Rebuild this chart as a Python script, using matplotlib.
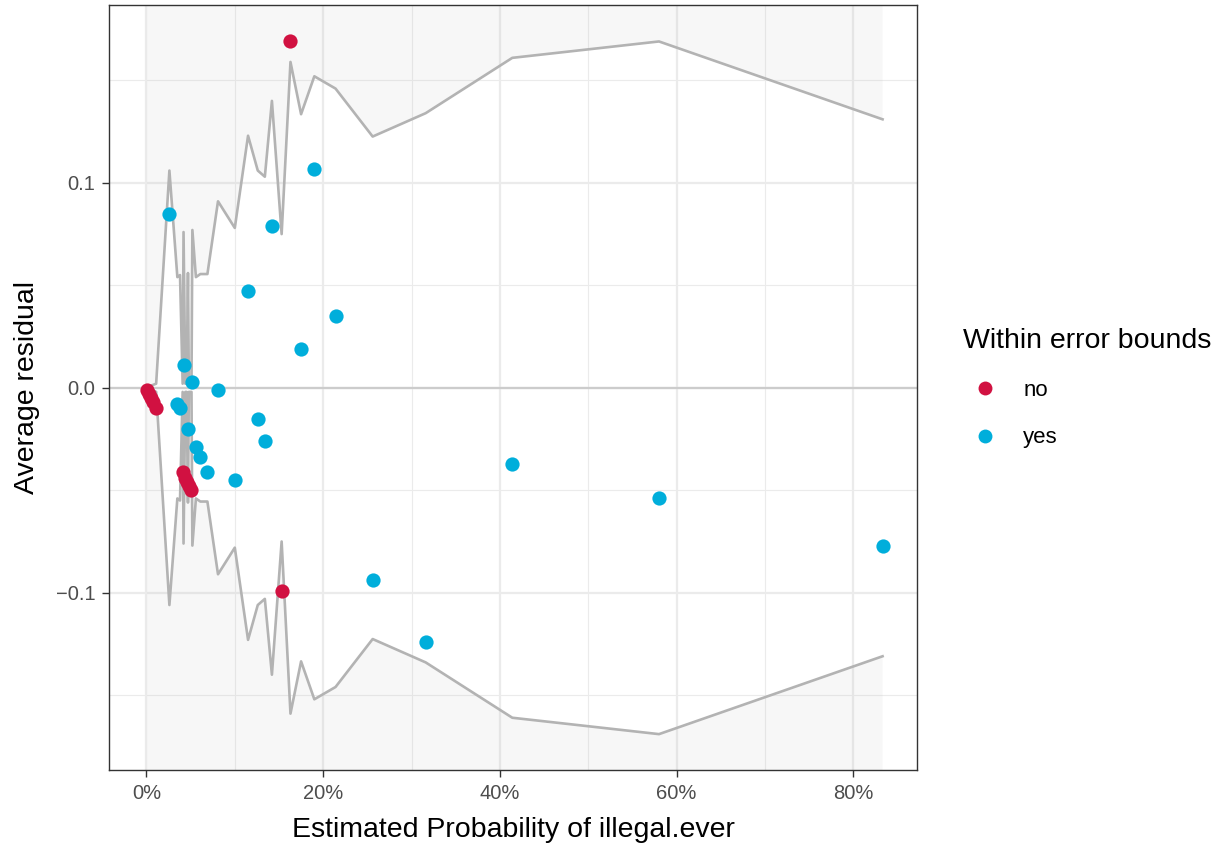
import numpy as np
import matplotlib.pyplot as plt
from matplotlib.lines import Line2D
from matplotlib.ticker import FuncFormatter

plt.rcParams['font.family'] = ['Liberation Sans', 'DejaVu Sans']

# binned residuals, one entry per bin (sorted by estimated probability)
xbar = [0.0005, 0.003, 0.005, 0.008, 0.011, 0.026, 0.035, 0.038, 0.041, 0.042,
        0.044, 0.0455, 0.047, 0.048, 0.051, 0.052, 0.056, 0.061, 0.069, 0.081,
        0.100, 0.115, 0.126, 0.134, 0.142, 0.153, 0.163, 0.175, 0.190, 0.214,
        0.256, 0.316, 0.414, 0.580, 0.833]
ybar = [-0.001, -0.003, -0.005, -0.007, -0.010, 0.085, -0.008, -0.010, -0.041, 0.011,
        -0.044, -0.046, -0.020, -0.048, -0.050, 0.003, -0.029, -0.034, -0.041, -0.001,
        -0.045, 0.047, -0.015, -0.026, 0.079, -0.099, 0.169, 0.019, 0.107, 0.035,
        -0.094, -0.124, -0.037, -0.054, -0.077]
se = [0.0003, 0.0006, 0.001, 0.0015, 0.002, 0.106, 0.054, 0.055, 0.002, 0.076,
      0.002, 0.002, 0.056, 0.002, 0.002, 0.077, 0.054, 0.0555, 0.0555, 0.091,
      0.078, 0.123, 0.106, 0.103, 0.140, 0.075, 0.159, 0.1335, 0.152, 0.146,
      0.1226, 0.134, 0.161, 0.169, 0.131]
group = ['no', 'no', 'no', 'no', 'no', 'yes', 'yes', 'yes', 'no', 'yes',
         'no', 'no', 'yes', 'no', 'no', 'yes', 'yes', 'yes', 'yes', 'yes',
         'yes', 'yes', 'yes', 'yes', 'yes', 'no', 'no', 'yes', 'yes', 'yes',
         'yes', 'yes', 'yes', 'yes', 'yes']

colors = {'no': '#d11141', 'yes': '#00aedb'}

x = np.array(xbar)
y = np.array(ybar)
s = np.array(se)
g = np.array(group)

fig = plt.figure(figsize=(12.26, 8.43), dpi=100)
ax = fig.add_axes([0.0893, 0.0866, 0.6587, 0.9075])

ylo, yhi = -0.1865, 0.1868
ax.set_xlim(-0.0418, 0.872)
ax.set_ylim(ylo, yhi)

# grid (theme_bw)
for v in [0.1, 0.3, 0.5, 0.7]:
    ax.axvline(v, color='#ebebeb', lw=0.8, zorder=0)
for v in [0.0, 0.2, 0.4, 0.6, 0.8]:
    ax.axvline(v, color='#ebebeb', lw=1.6, zorder=0)
for v in [-0.15, -0.05, 0.05, 0.15]:
    ax.axhline(v, color='#ebebeb', lw=0.8, zorder=0)
for v in [-0.1, 0.0, 0.1]:
    ax.axhline(v, color='#ebebeb', lw=1.6, zorder=0)

ax.axhline(0, color='#cccccc', lw=1.6, zorder=1)

# shade outside the error bounds
ax.fill_between(x, s, yhi + 1, color='#b3b3b3', alpha=0.1, lw=0, zorder=1)
ax.fill_between(x, ylo - 1, -s, color='#b3b3b3', alpha=0.1, lw=0, zorder=1)

ax.plot(x, s, color='#b3b3b3', lw=1.9, zorder=2)
ax.plot(x, -s, color='#b3b3b3', lw=1.9, zorder=2)

for key in ['no', 'yes']:
    m = g == key
    ax.scatter(x[m], y[m], s=105, color=colors[key], lw=0, zorder=3)

ax.set_xticks([0, 0.2, 0.4, 0.6, 0.8])
ax.xaxis.set_major_formatter(FuncFormatter(lambda v, p: f'{v * 100:.0f}%'))
ax.set_yticks([-0.1, 0.0, 0.1])
ax.set_yticklabels(['\u22120.1', '0.0', '0.1'])
ax.tick_params(colors='#333333', labelcolor='#4d4d4d', labelsize=14.5,
               length=5, width=1.0, pad=5)

for sp in ax.spines.values():
    sp.set_color('#333333')
    sp.set_linewidth(1.0)

ax.set_xlabel('Estimated Probability of illegal.ever', fontsize=20.5, labelpad=10)
ax.set_ylabel('Average residual', fontsize=20.5)
ax.yaxis.set_label_coords(-0.086, 0.5)

handles = [Line2D([], [], ls='none', marker='o', markersize=10, markeredgewidth=0,
                  color=colors[k]) for k in ['no', 'yes']]
leg = fig.legend(handles, ['no', 'yes'], title='Within error bounds',
                 loc='upper left', bbox_to_anchor=(0.778, 0.622), frameon=False,
                 fontsize=16, title_fontsize=20.5, handlelength=2.0,
                 handletextpad=0.72, labelspacing=1.19, borderaxespad=0)
leg._legend_box.align = 'left'

fig.savefig('out.png', dpi=100)
